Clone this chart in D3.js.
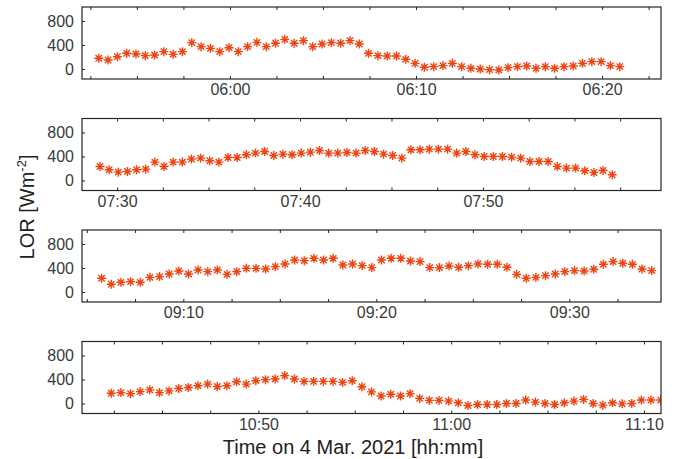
<!DOCTYPE html>
<html>
<head>
<meta charset="utf-8">
<script src="https://cdn.jsdelivr.net/npm/d3@7"></script>
<style>
  body { margin: 0; background: #fff; }
  svg { display: block; font-family: "Liberation Sans", Arial, Helvetica, sans-serif; }
</style>
</head>
<body>
<div id="chart"></div>
<script>
// sampling: one value every 30 s, first sample time per panel
const startTimes = ["05:52:57", "07:29:04", "09:05:46", "10:42:22"]
const stepSeconds = 30
// x-axis limits per panel
const xLimits = [
    ["05:52:03", "06:23:10"],
    ["07:28:05", "07:59:44"],
    ["09:04:45", "09:34:45"],
    ["10:40:51", "11:10:53"]
]
const yTicks = [0, 400, 800]

// LOR values [W m-2]
const lorPanel1 = [178, 150, 205, 262, 250, 222, 233, 289, 244, 289,
    439, 372, 344, 289, 355, 289, 372, 444, 372, 428,
    494, 428, 472, 372, 417, 439, 428, 472, 417, 261,
    222, 217, 217, 161, 94, 28, 39, 56, 94, 39,
    11, 0, -11, -17, 22, 39, 50, 11, 39, 11,
    39, 50, 94, 122, 122, 56, 39]
const lorPanel2 = [233, 178, 139, 150, 178, 189, 306, 233, 306, 306,
    356, 372, 328, 306, 383, 383, 428, 456, 483, 417,
    439, 428, 456, 472, 500, 456, 456, 467, 456, 500,
    483, 439, 417, 372, 511, 511, 522, 522, 522, 456,
    483, 428, 400, 400, 400, 389, 372, 317, 317, 317,
    233, 206, 206, 161, 133, 167, 95]
const lorPanel3 = [228, 128, 161, 172, 161, 244, 256, 300, 350, 300,
    367, 339, 367, 294, 339, 394, 394, 383, 422, 467,
    533, 522, 561, 533, 561, 450, 467, 439, 406, 533,
    561, 561, 517, 506, 406, 406, 433, 411, 439, 467,
    461, 461, 411, 294, 228, 244, 272, 300, 339, 356,
    350, 378, 461, 506, 478, 461, 383, 356]
const lorPanel4 = [170, 181, 164, 198, 227, 181, 210, 249, 266, 295,
    323, 283, 295, 363, 323, 380, 397, 408, 465, 408,
    368, 368, 368, 368, 351, 380, 278, 193, 125, 153,
    125, 164, 85, 51, 51, 40, 11, -34, -17, -17,
    -17, 0, 0, 57, 23, 0, -17, 11, 40, 68,
    0, -28, 11, -6, 0, 57, 57, 57]
const panelValues = [lorPanel1, lorPanel2, lorPanel3, lorPanel4]

const width = 676, height = 459
const left = 82, right = 661, boxHeight = 72
const panelTops = [7, 118.5, 230, 341.5]
const markerColor = "#ee4411"
const axisColor = "#262626"
const textColor = "#3a3a3a"

function toDate(hms) {
    const p = hms.split(":").map(Number)
    return new Date(2021, 2, 4, p[0], p[1], p[2] || 0)
}

const svg = d3.select("#chart")
    .append("svg")
    .attr("width", width)
    .attr("height", height)

const fmt = d3.timeFormat("%H:%M")

// asterisk marker: four crossing strokes
const r = 4.5, d = r * Math.SQRT1_2
const asterisk = `M${-r},0L${r},0M0,${-r}L0,${r}M${-d},${-d}L${d},${d}M${-d},${d}L${d},${-d}`

panelValues.forEach((values, i) => {
    const top = panelTops[i], bottom = top + boxHeight
    const x = d3.scaleTime()
        .domain(xLimits[i].map(toDate))
        .range([left, right])
    const y = d3.scaleLinear()
        .domain([-167, 1033])
        .range([bottom, top])

    const t0 = toDate(startTimes[i])
    const data = values.map((v, k) => ({t: new Date(t0.getTime() + k * stepSeconds * 1000), v: v}))

    const g = svg.append("g")

    // clip to the axes box
    g.append("clipPath")
        .attr("id", "clip" + i)
        .append("rect")
        .attr("x", left).attr("y", top)
        .attr("width", right - left).attr("height", boxHeight)

    // minor ticks every 2.5 min, labels only every 10 min
    const [d0, d1] = x.domain()
    const q = 150000
    const minor = d3.range(Math.ceil(d0.getTime() / q) * q, d1.getTime(), q).map(ms => new Date(ms))
    const major = minor.filter(t => t.getMinutes() % 10 === 0 && t.getSeconds() === 0)

    g.append("g")
        .attr("transform", `translate(0,${bottom})`)
        .call(d3.axisBottom(x).tickValues(minor).tickSize(-3).tickSizeOuter(0).tickFormat(""))
        .call(a => a.select(".domain").remove())
        .call(a => a.selectAll("line").attr("stroke", axisColor))
    g.append("g")
        .attr("transform", `translate(0,${top})`)
        .call(d3.axisTop(x).tickValues(minor).tickSize(-3).tickSizeOuter(0).tickFormat(""))
        .call(a => a.select(".domain").remove())
        .call(a => a.selectAll("line").attr("stroke", axisColor))
    g.append("g")
        .attr("transform", `translate(0,${bottom})`)
        .call(d3.axisBottom(x).tickValues(major).tickSize(0).tickPadding(5).tickFormat(fmt))
        .call(a => a.select(".domain").remove())
        .call(a => a.selectAll("text")
            .attr("fill", textColor)
            .style("font-size", "16px"))

    g.append("g")
        .attr("transform", `translate(${left},0)`)
        .call(d3.axisLeft(y).tickValues(yTicks).tickSize(-3).tickSizeOuter(0).tickPadding(8))
        .call(a => a.select(".domain").remove())
        .call(a => a.selectAll("line").attr("stroke", axisColor))
        .call(a => a.selectAll("text")
            .attr("fill", textColor)
            .style("font-size", "16px"))

    // markers
    g.append("g")
        .attr("clip-path", `url(#clip${i})`)
        .selectAll("path")
        .data(data)
        .join("path")
        .attr("transform", p => `translate(${x(p.t)},${y(p.v)})`)
        .attr("d", asterisk)
        .attr("fill", "none")
        .attr("stroke", markerColor)
        .attr("stroke-width", 1.4)

    // box
    g.append("rect")
        .attr("x", left).attr("y", top)
        .attr("width", right - left).attr("height", boxHeight)
        .attr("fill", "none")
        .attr("stroke", axisColor)
        .attr("stroke-width", 1.2)
})

// axis titles
svg.append("text")
    .attr("x", 353)
    .attr("y", 454)
    .attr("text-anchor", "middle")
    .attr("fill", "#222")
    .style("font-size", "20px")
    .text("Time on 4 Mar. 2021 [hh:mm]")

const yl = svg.append("text")
    .attr("transform", "translate(34,207) rotate(-90)")
    .attr("text-anchor", "middle")
    .attr("fill", "#222")
    .style("font-size", "20px")
yl.append("tspan").text("LOR [Wm")
yl.append("tspan").attr("dy", -8).style("font-size", "13px").text("-2")
yl.append("tspan").attr("dy", 8).text("]")
</script>
</body>
</html>
